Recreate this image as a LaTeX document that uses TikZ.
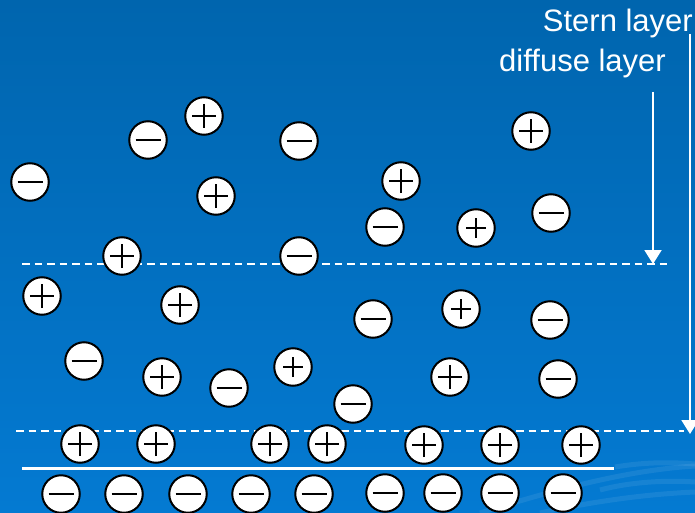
\documentclass[tikz,border=0pt]{standalone}
\usepackage{fontspec}
\newfontfamily\labelfont{Liberation Sans}
\usetikzlibrary{arrows.meta}
\definecolor{bgtop}{RGB}{0,101,174}
\definecolor{bgbottom}{RGB}{4,122,210}
\tikzset{
  ion/.style={circle, draw=black, fill=white, line width=2pt,
    minimum size=37.5pt, inner sep=0pt},
  anion/.style={ion, path picture={
    \draw[line width=2.4pt] ([xshift=-12.5pt]path picture bounding box.center)
      -- ([xshift=12.5pt]path picture bounding box.center);}},
  cation/.style={ion, path picture={
    \draw[line width=1.9pt] ([xshift=-12pt]path picture bounding box.center)
      -- ([xshift=12pt]path picture bounding box.center)
      ([yshift=-12pt]path picture bounding box.center)
      -- ([yshift=12pt]path picture bounding box.center);}},
  boldcation/.style={ion, path picture={
    \draw[line width=2.7pt] ([xshift=-10pt]path picture bounding box.center)
      -- ([xshift=10pt]path picture bounding box.center)
      ([yshift=-10pt]path picture bounding box.center)
      -- ([yshift=10pt]path picture bounding box.center);}},
  boundary/.style={draw=white, line width=2.6pt, dash pattern=on 7.5pt off 5pt},
  surface/.style={draw=white, line width=3pt},
  pointer/.style={draw=white, line width=2pt, -{Triangle[width=17pt,length=14pt]}},
  label/.style={text=white, font=\labelfont\fontsize{31}{31}\selectfont, inner sep=0pt},
  wave/.style={draw=white, opacity=0.08, line width=5pt}
}
\begin{document}
\begin{tikzpicture}[x=1pt, y=-1pt]
  % background
  \shade[top color=bgtop, bottom color=bgbottom] (0,0) rectangle (695,513);
  \useasboundingbox (0,0) rectangle (695,513);
  % faint decorative swirls
  \draw[wave] (615,467) .. controls (645,462) and (670,462) .. (695,464);
  \draw[wave] (600,490) .. controls (630,482) and (665,480) .. (695,482);
  \draw[wave] (480,513) .. controls (560,488) and (630,470) .. (695,466);
  \draw[wave] (540,513) .. controls (600,500) and (650,494) .. (695,492);

  % layer boundaries
  \coordinate (d1a) at (22,264);  \coordinate (d1b) at (668,264);
  \coordinate (d2a) at (16,431);  \coordinate (d2b) at (684,431);
  \coordinate (sa) at (22,468);   \coordinate (sb) at (614,468);
  \path[boundary] (d1a) -- (d1b);
  \path[boundary] (d2a) -- (d2b);
  \path[surface] (sa) -- (sb);

  % labels
  \node[label, anchor=base east] (stern) at (693,32) {Stern layer};
  \node[label, anchor=base east] (diffuse) at (666,72) {diffuse layer};

  % pointers
  \coordinate (sternstart) at (690,34);
  \coordinate (sternend) at (690,434);
  \coordinate (diffstart) at (653,92);
  \coordinate (diffend) at (653,264);
  \draw[pointer] (sternstart) -- (sternend);
  \draw[pointer] (diffstart) -- (diffend);

  % bulk ions
  \node[anion]  (m1) at (148,140) {};
  \node[cation] (p1) at (204,116) {};
  \node[anion]  (m2) at (299,141) {};
  \node[anion]  (m3) at (30,182) {};
  \node[cation] (p2) at (216,196) {};
  \node[cation] (p3) at (531,131) {};
  \node[cation] (p4) at (401,181) {};
  \node[anion]  (m4) at (385,227) {};
  \node[boldcation] (p5) at (476,228) {};
  \node[anion]  (m5) at (551,213) {};
  \node[cation] (p6) at (122,256) {};
  \node[anion]  (m6) at (299,256) {};

  % diffuse layer ions
  \node[cation] (p7) at (42,296) {};
  \node[cation] (p8) at (180,305) {};
  \node[anion]  (m7) at (84,361) {};
  \node[cation] (p9) at (162,377) {};
  \node[anion]  (m8) at (229,388) {};
  \node[boldcation] (p10) at (293,367) {};
  \node[anion]  (m9) at (353,404) {};
  \node[anion]  (m10) at (373,319) {};
  \node[boldcation] (p11) at (461,309) {};
  \node[anion]  (m11) at (550,320) {};
  \node[cation] (p12) at (450,377) {};
  \node[anion]  (m12) at (558,379) {};

  % Stern layer counter-ions
  \node[cation] (s1) at (80,444) {};
  \node[cation] (s2) at (156,444) {};
  \node[cation] (s3) at (270,444) {};
  \node[cation] (s4) at (327,444) {};
  \node[cation] (s5) at (424,445) {};
  \node[cation] (s6) at (500,445) {};
  \node[cation] (s7) at (581,445) {};

  % surface charges
  \node[anion] (w1) at (61,494) {};
  \node[anion] (w2) at (124,494) {};
  \node[anion] (w3) at (188,494) {};
  \node[anion] (w4) at (251,494) {};
  \node[anion] (w5) at (314,494) {};
  \node[anion] (w6) at (385,493) {};
  \node[anion] (w7) at (443,493) {};
  \node[anion] (w8) at (500,493) {};
  \node[anion] (w9) at (563,493) {};
\end{tikzpicture}
\end{document}
